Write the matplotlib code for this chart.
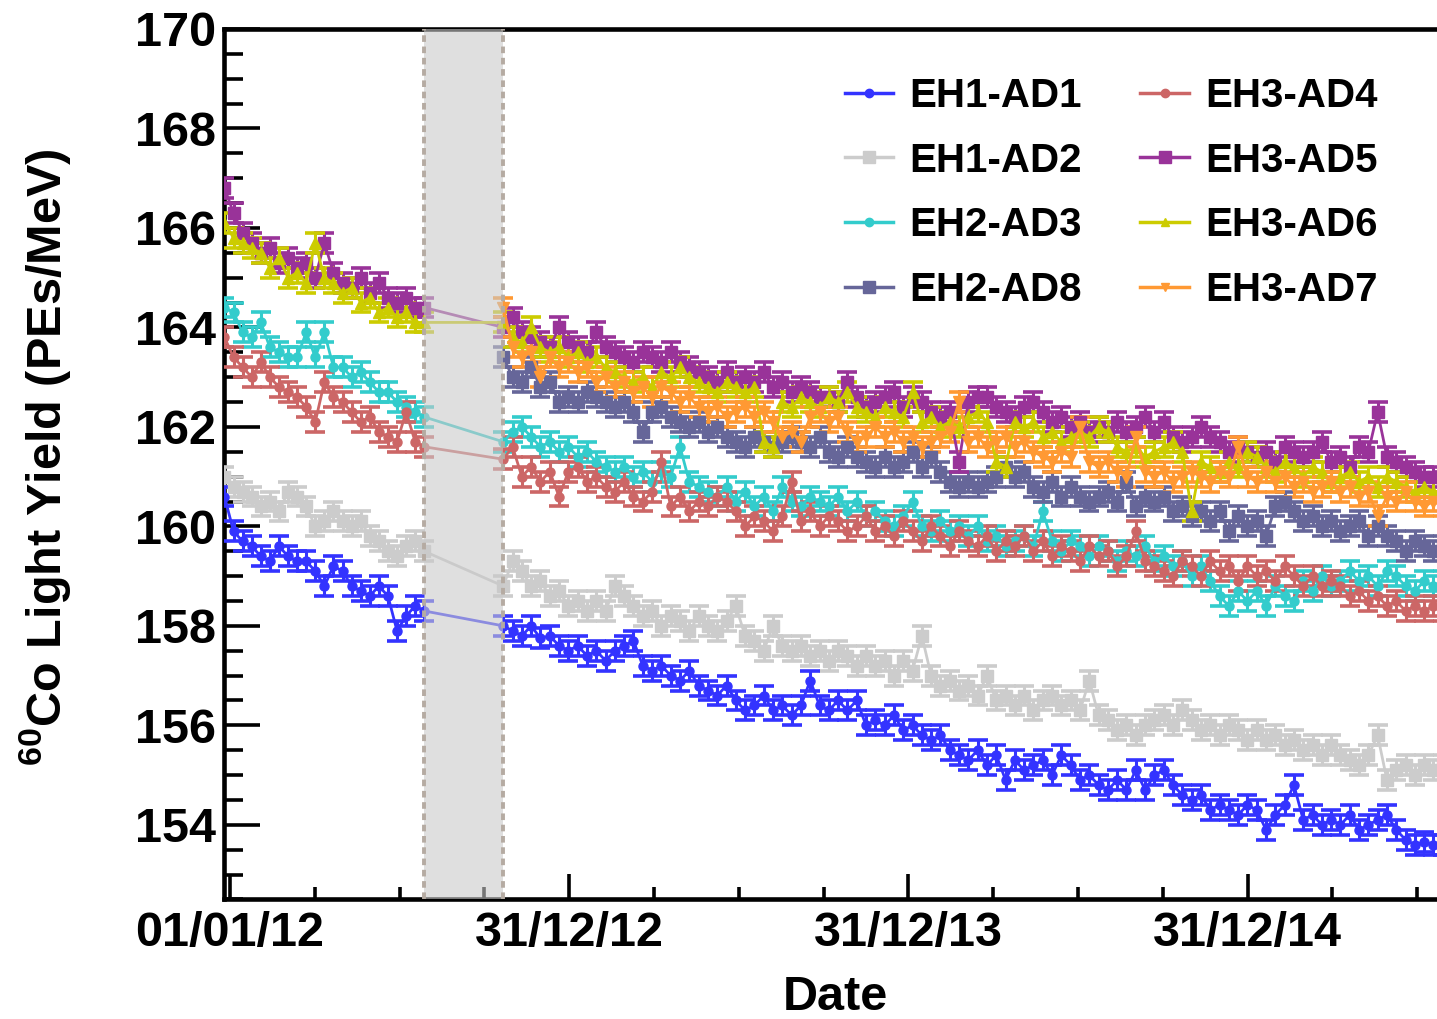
import matplotlib
matplotlib.use("Agg")
import matplotlib.pyplot as plt
import matplotlib.dates as mdates
from matplotlib.lines import Line2D
from matplotlib.ticker import MultipleLocator
import numpy as np
import pandas as pd

plt.rcParams['font.family'] = ['Liberation Sans', 'DejaVu Sans']
plt.rcParams['font.weight'] = 'bold'
plt.rcParams['mathtext.default'] = 'regular'

# calibration windows: before and after the AD7/AD8 installation gap
seg1_start, seg1_end = "2011-12-26", "2012-07-28"
seg2_start, seg2_end = "2012-10-21", "2015-07-29"
gap_start, gap_end = "2012-07-28", "2012-10-21"

labels = ['EH1-AD1', 'EH1-AD2', 'EH2-AD3', 'EH3-AD4', 'EH3-AD5', 'EH3-AD6', 'EH3-AD7', 'EH2-AD8']
colors = ['#3333ff', '#cccccc', '#33cccc', '#cc6666', '#993399', '#cccc00', '#ff9933', '#666699']
markers = ['o', 's', 'o', 'o', 's', '^', 'v', 's']
yerrs = [0.2, 0.2, 0.2, 0.2, 0.2, 0.2, 0.2, 0.2]

# light yield (PEs/MeV), first period
ad1_a = [160.6, 159.9, 159.7, 159.6, 159.4, 159.3, 159.6, 159.4, 159.3, 159.3,
         159.1, 158.8, 159.2, 159.1, 158.8, 158.7, 158.6, 158.8, 158.6, 157.9,
         158.2, 158.4, 158.3]
ad2_a = [161.0, 160.8, 160.7, 160.6, 160.4, 160.5, 160.3, 160.7, 160.6, 160.4,
         160.0, 160.1, 160.3, 160.1, 160.0, 160.1, 159.8, 159.7, 159.5, 159.4,
         159.6, 159.7, 159.5]
ad3_a = [164.4, 164.3, 163.9, 163.8, 164.1, 163.6, 163.5, 163.4, 163.4, 163.9,
         163.4, 163.9, 163.2, 163.2, 163.0, 163.1, 162.9, 162.7, 162.7, 162.5,
         162.4, 162.3, 162.2]
ad4_a = [163.8, 163.4, 163.2, 163.0, 163.3, 163.0, 162.8, 162.7, 162.6, 162.4,
         162.1, 162.9, 162.6, 162.5, 162.3, 162.1, 162.2, 161.9, 161.8, 161.7,
         162.3, 161.7, 161.6]
ad5_a = [166.8, 166.3, 165.9, 165.7, 165.5, 165.6, 165.3, 165.4, 165.2, 165.3,
         165.0, 165.7, 165.1, 164.9, 164.8, 165.0, 164.7, 164.9, 164.6, 164.5,
         164.6, 164.4, 164.4]
ad6_a = [166.1, 165.8, 165.7, 165.6, 165.5, 165.2, 165.4, 165.0, 165.1, 164.9,
         165.7, 165.0, 164.9, 164.7, 164.8, 164.5, 164.6, 164.3, 164.4, 164.2,
         164.3, 164.1, 164.1]

# second period
ad1_b = [158.0, 157.9, 157.8, 158.0, 157.75, 157.8, 157.6, 157.5, 157.6, 157.4,
         157.5, 157.3, 157.5, 157.6, 157.7, 157.2, 157.1, 157.2, 157.0, 156.9,
         157.1, 156.8, 156.7, 156.6, 156.8, 156.5, 156.3, 156.4, 156.6, 156.3,
         156.4, 156.2, 156.4, 156.9, 156.4, 156.3, 156.5, 156.3, 156.5, 156.0,
         156.1, 156.0, 156.2, 155.9, 156.0, 155.8, 155.7, 155.8, 155.5, 155.4,
         155.3, 155.5, 155.2, 155.4, 154.9, 155.3, 155.1, 155.2, 155.3, 155.0,
         155.4, 155.2, 154.9, 155.0, 154.8, 154.7, 154.9, 154.7, 155.1, 154.7,
         155.0, 155.1, 154.8, 154.6, 154.5, 154.6, 154.3, 154.4, 154.3, 154.2,
         154.4, 154.3, 153.9, 154.2, 154.4, 154.8, 154.1, 154.2, 154.0, 154.1,
         154.0, 154.2, 153.9, 154.0, 154.1, 154.2, 153.9, 153.7, 153.6, 153.65,
         153.6, 153.6]
ad2_b = [158.8, 159.3, 159.1, 158.8, 158.9, 158.6, 158.7, 158.4, 158.5, 158.3,
         158.5, 158.3, 158.8, 158.6, 158.4, 158.2, 158.3, 158.0, 158.2, 158.1,
         157.9, 158.2, 158.0, 157.9, 158.1, 158.4, 157.8, 157.7, 157.5, 158.0,
         157.6, 157.5, 157.6, 157.4, 157.5, 157.3, 157.5, 157.4, 157.2, 157.4,
         157.2, 157.3, 157.0, 157.3, 157.1, 157.8, 157.0, 156.8, 156.9, 156.7,
         156.8, 156.6, 157.0, 156.5, 156.6, 156.4, 156.6, 156.3, 156.5, 156.6,
         156.4, 156.5, 156.3, 156.9, 156.2, 156.1, 155.9, 156.0, 155.8, 156.0,
         156.1, 156.2, 156.0, 156.3, 156.1, 155.9, 156.0, 155.8, 156.0, 155.9,
         155.7, 155.9, 155.7, 155.8, 155.6, 155.7, 155.5, 155.6, 155.4, 155.6,
         155.4, 155.3, 155.2, 155.4, 155.8, 154.9, 155.1, 155.2, 155.0, 155.2,
         155.1, 155.2]
ad3_b = [161.7, 161.9, 162.0, 161.8, 161.6, 161.7, 161.5, 161.6, 161.4, 161.5,
         161.3, 161.2, 161.1, 161.2, 161.0, 161.1, 160.9, 161.1, 161.0, 161.6,
         160.9, 160.8, 160.7, 160.6, 160.8, 160.5, 160.7, 160.4, 160.6, 160.3,
         160.8, 160.5, 160.4, 160.6, 160.5, 160.4, 160.6, 160.3, 160.5, 160.2,
         160.3, 160.1, 160.0, 160.2, 160.5, 160.0, 159.9, 160.1, 159.9, 160.0,
         159.8, 160.0, 159.7, 159.8, 159.6, 159.7, 159.8, 159.6, 160.3, 159.7,
         159.5, 159.7, 159.6, 159.4, 159.6, 159.5, 159.3, 159.5, 159.4, 159.6,
         159.3, 159.4, 159.2, 159.3, 159.0, 159.2, 158.9, 158.6, 158.4, 158.7,
         158.5, 158.7, 158.4, 158.8, 158.6, 158.5, 158.9, 158.7, 159.0, 158.8,
         158.9, 159.1, 158.9, 159.0, 158.8, 159.1, 159.0, 158.8, 158.7, 158.9,
         158.8, 158.9]
ad4_b = [161.35, 161.6, 161.0, 161.2, 160.9, 161.1, 160.6, 161.1, 161.2, 160.9,
         161.0, 160.8, 160.7, 160.9, 160.6, 160.5, 160.7, 161.3, 160.4, 160.6,
         160.3, 160.5, 160.4, 160.6, 160.5, 160.3, 160.0, 160.2, 160.1, 159.9,
         160.2, 160.9, 160.1, 160.3, 160.0, 160.2, 160.1, 159.9, 160.0, 160.2,
         159.9, 160.0, 159.8, 160.1, 159.9, 159.7, 160.0, 159.8, 159.6, 159.9,
         159.7, 159.6, 159.8, 159.5, 159.7, 159.6, 159.8, 159.5, 159.7, 159.4,
         159.6, 159.5, 159.3, 159.6, 159.4, 159.5, 159.2, 159.4, 159.9, 159.3,
         159.2, 159.1, 159.0, 159.3, 159.2, 159.0, 159.3, 159.1, 159.2, 158.9,
         159.2, 159.0, 159.1, 158.9, 159.2, 159.0, 158.8, 159.0, 158.8, 158.9,
         158.8, 158.6, 158.7, 158.5, 158.6, 158.4, 158.5, 158.3, 158.4, 158.3,
         158.4, 158.3]
ad5_b = [164.0, 164.2, 163.9, 163.8, 163.7, 163.6, 164.0, 163.7, 163.6, 163.5,
         163.9, 163.6, 163.5, 163.4, 163.3, 163.5, 163.4, 163.3, 163.5, 163.3,
         163.2, 163.1, 163.0, 162.9, 163.1, 162.9, 163.0, 162.9, 163.1, 162.8,
         162.9, 162.7, 162.8, 162.7, 162.6, 162.6, 162.5, 162.9, 162.6, 162.4,
         162.5, 162.6, 162.7, 162.4, 162.6, 162.5, 162.3, 162.2, 162.3, 161.3,
         162.5, 162.6, 162.6, 162.4, 162.3, 162.2, 162.4, 162.5, 162.3, 162.1,
         162.2, 162.0, 162.1, 161.9, 162.0, 161.9, 162.1, 161.9, 162.0, 162.2,
         161.9, 162.1, 161.8, 161.7, 161.8, 162.0, 161.8, 161.7, 161.5, 161.6,
         161.5, 161.4, 161.5, 161.3, 161.6, 161.5, 161.4, 161.5, 161.7, 161.3,
         161.4, 161.2, 161.6, 161.5, 162.3, 161.4, 161.3, 161.2, 161.1, 161.0,
         161.0, 160.9]
ad6_b = [164.1, 163.8, 163.7, 164.0, 163.6, 163.5, 163.6, 163.4, 163.5, 163.3,
         163.4, 163.2, 163.1, 163.0, 162.9, 163.0, 162.8, 163.1, 163.0, 163.2,
         163.0, 162.9, 162.8, 162.7, 162.9, 162.8, 162.7, 162.8, 161.7, 161.6,
         162.5, 162.4, 162.6, 162.5, 162.4, 162.6, 162.5, 162.7, 162.4, 162.3,
         162.2, 162.4, 162.3, 162.2, 162.7, 162.1, 162.2, 162.0, 162.1, 162.0,
         162.2, 162.3, 162.1, 161.3, 161.2, 162.1, 162.0, 162.1, 161.8, 161.9,
         161.7, 161.8, 161.9, 161.8, 162.0, 161.9, 161.6, 161.5, 161.6, 161.4,
         161.5, 161.6, 161.7, 161.5, 160.3, 161.3, 161.2, 161.1, 161.3, 161.2,
         161.5, 161.4, 161.2, 161.1, 161.3, 161.2, 161.0, 161.2, 161.1, 160.9,
         161.0, 161.1, 160.9, 161.0, 160.8, 161.0, 160.9, 160.8, 160.7, 160.8,
         160.7, 160.7]
ad7_b = [164.4, 163.6, 163.4, 163.5, 163.0, 163.4, 163.2, 163.3, 163.1, 163.2,
         162.9, 163.0, 162.8, 162.9, 162.7, 162.8, 162.6, 162.8, 162.7, 162.5,
         162.6, 162.4, 162.3, 162.4, 162.2, 162.3, 162.4, 162.2, 162.3, 162.1,
         161.8, 161.9, 161.7, 162.2, 162.3, 162.1, 162.2, 161.9, 161.7, 161.8,
         162.0, 161.8, 161.9, 161.7, 161.8, 161.6, 161.7, 161.8, 161.9, 162.5,
         161.7, 161.8, 161.6, 161.7, 161.8, 161.6, 161.7, 161.5, 161.4, 161.3,
         161.5, 161.4, 162.0, 161.3, 161.2, 161.3, 161.1, 161.0, 161.8, 161.1,
         161.0, 161.1, 160.9, 161.0, 161.1, 161.0, 160.9, 161.1, 161.0, 161.6,
         161.0, 160.9, 161.1, 160.9, 161.0, 160.8, 160.9, 160.7, 160.8, 160.9,
         160.7, 160.8, 160.6, 160.7, 160.2, 160.6, 160.5, 160.7, 160.5, 160.4,
         160.5, 160.4]
ad8_b = [163.4, 163.0, 162.9, 163.2, 162.8, 162.9, 162.5, 162.6, 162.5, 162.7,
         162.6, 162.5, 162.4, 162.5, 162.3, 161.9, 162.3, 162.4, 162.2, 162.1,
         162.0, 162.1, 161.9, 162.0, 161.8, 161.7, 161.6, 161.8, 161.7, 161.6,
         161.7, 161.8, 161.7, 161.6, 161.8, 161.5, 161.4, 161.6, 161.4, 161.3,
         161.2, 161.4, 161.2, 161.3, 161.5, 161.2, 161.4, 161.1, 160.9, 160.8,
         160.9, 160.8, 160.9, 161.0, 161.2, 161.0, 161.1, 160.8, 160.7, 160.9,
         160.6, 160.8, 160.6, 160.5, 160.6, 160.7, 160.5, 160.9, 160.4, 160.6,
         160.5, 160.6, 160.3, 160.4, 160.2, 160.3, 160.1, 160.3, 159.9, 160.2,
         160.0, 160.1, 159.8, 160.4, 160.5, 160.3, 160.1, 160.2, 160.0, 160.1,
         159.9, 160.0, 160.1, 159.8, 160.0, 159.8, 159.7, 159.5, 159.7, 159.6,
         159.5, 159.6]

first = [ad1_a, ad2_a, ad3_a, ad4_a, ad5_a, ad6_a, None, None]
second = [ad1_b, ad2_b, ad3_b, ad4_b, ad5_b, ad6_b, ad7_b, ad8_b]

major_dates = ["2012-01-01", "2012-12-31", "2013-12-31", "2014-12-31"]
x_left, x_right = pd.Timestamp("2011-12-25 12:00"), pd.Timestamp("2015-08-23")

fig = plt.figure(figsize=(14.37, 10.19), dpi=100)
ax = fig.add_axes([224 / 1437, 0.1173, (1466 - 224) / 1437, 0.8543])

draw_order = [1, 0, 2, 3, 7, 4, 5, 6]
for i in draw_order:
    vals = list(second[i])
    dates = list(pd.date_range(seg2_start, seg2_end, periods=len(second[i])))
    if first[i] is not None:
        vals = list(first[i]) + vals
        dates = list(pd.date_range(seg1_start, seg1_end, periods=len(first[i]))) + dates
    ms = {'s': 8.5, 'o': 6.5, '^': 8.5, 'v': 8}[markers[i]]
    ax.errorbar(dates, vals, yerr=yerrs[i], color=colors[i], marker=markers[i],
                ms=ms, lw=2, elinewidth=2.2, capsize=7, capthick=2.6, zorder=3)

# data-taking gap
g0, g1 = pd.Timestamp(gap_start), pd.Timestamp(gap_end)
ax.axvspan(g0, g1, color='#cacaca', alpha=0.59, lw=0, zorder=5)
for g in (g0, g1):
    ax.axvline(g, color='#b5aba2', lw=2.8, ls=(0, (1.7, 1.2)), zorder=6)

maj = [mdates.date2num(pd.Timestamp(d)) for d in major_dates]
ax.set_xticks(maj)
ax.set_xticklabels([pd.Timestamp(d).strftime('%d/%m/%y') for d in major_dates])
step = (maj[1] - maj[0]) / 4
minor = []
for k in range(len(maj)):
    for j in (1, 2, 3):
        t = maj[k] + j * step
        if t < mdates.date2num(x_right):
            minor.append(t)
ax.set_xticks(minor, minor=True)
ax.set_xlim(x_left, x_right)
ax.set_ylim(152.5, 170)

ax.yaxis.set_major_locator(MultipleLocator(2))
ax.yaxis.set_minor_locator(MultipleLocator(0.5))

ax.tick_params(axis='both', which='both', direction='in', width=2.6, labelsize=35,
               top=False, right=False)
ax.tick_params(axis='y', which='major', length=26, pad=6)
ax.tick_params(axis='y', which='minor', length=14)
ax.tick_params(axis='x', which='major', length=18, pad=8)
ax.tick_params(axis='x', which='minor', length=9)
for lab in ax.get_xticklabels() + ax.get_yticklabels():
    lab.set_fontweight('bold')
for s in ax.spines.values():
    s.set_linewidth(3.3)

fig.text(835 / 1437, 1 - 998 / 1019, 'Date', fontsize=35, fontweight='bold',
         ha='center', va='center')
fig.text(45 / 1437, 1 - 457 / 1019, r'$^{60}$Co Light Yield (PEs/MeV)', fontsize=35,
         fontweight='bold', rotation=90, ha='center', va='center')

legend_order = [0, 1, 2, 7, 3, 4, 5, 6]
handles = []
for i in legend_order:
    ms = 9 if markers[i] == 's' else 6
    handles.append(Line2D([], [], color=colors[i], marker=markers[i], ms=ms, lw=2.5))
ax.legend(handles, [labels[i] for i in legend_order], ncol=2, frameon=False,
          fontsize=29, loc='upper left', bbox_to_anchor=(845 / 1437, 1 - 77 / 1019),
          bbox_transform=fig.transFigure, borderpad=0, borderaxespad=0,
          handlelength=1.2, handletextpad=0.4, columnspacing=1.45, labelspacing=0.66)

fig.savefig('out.png', dpi=100)
